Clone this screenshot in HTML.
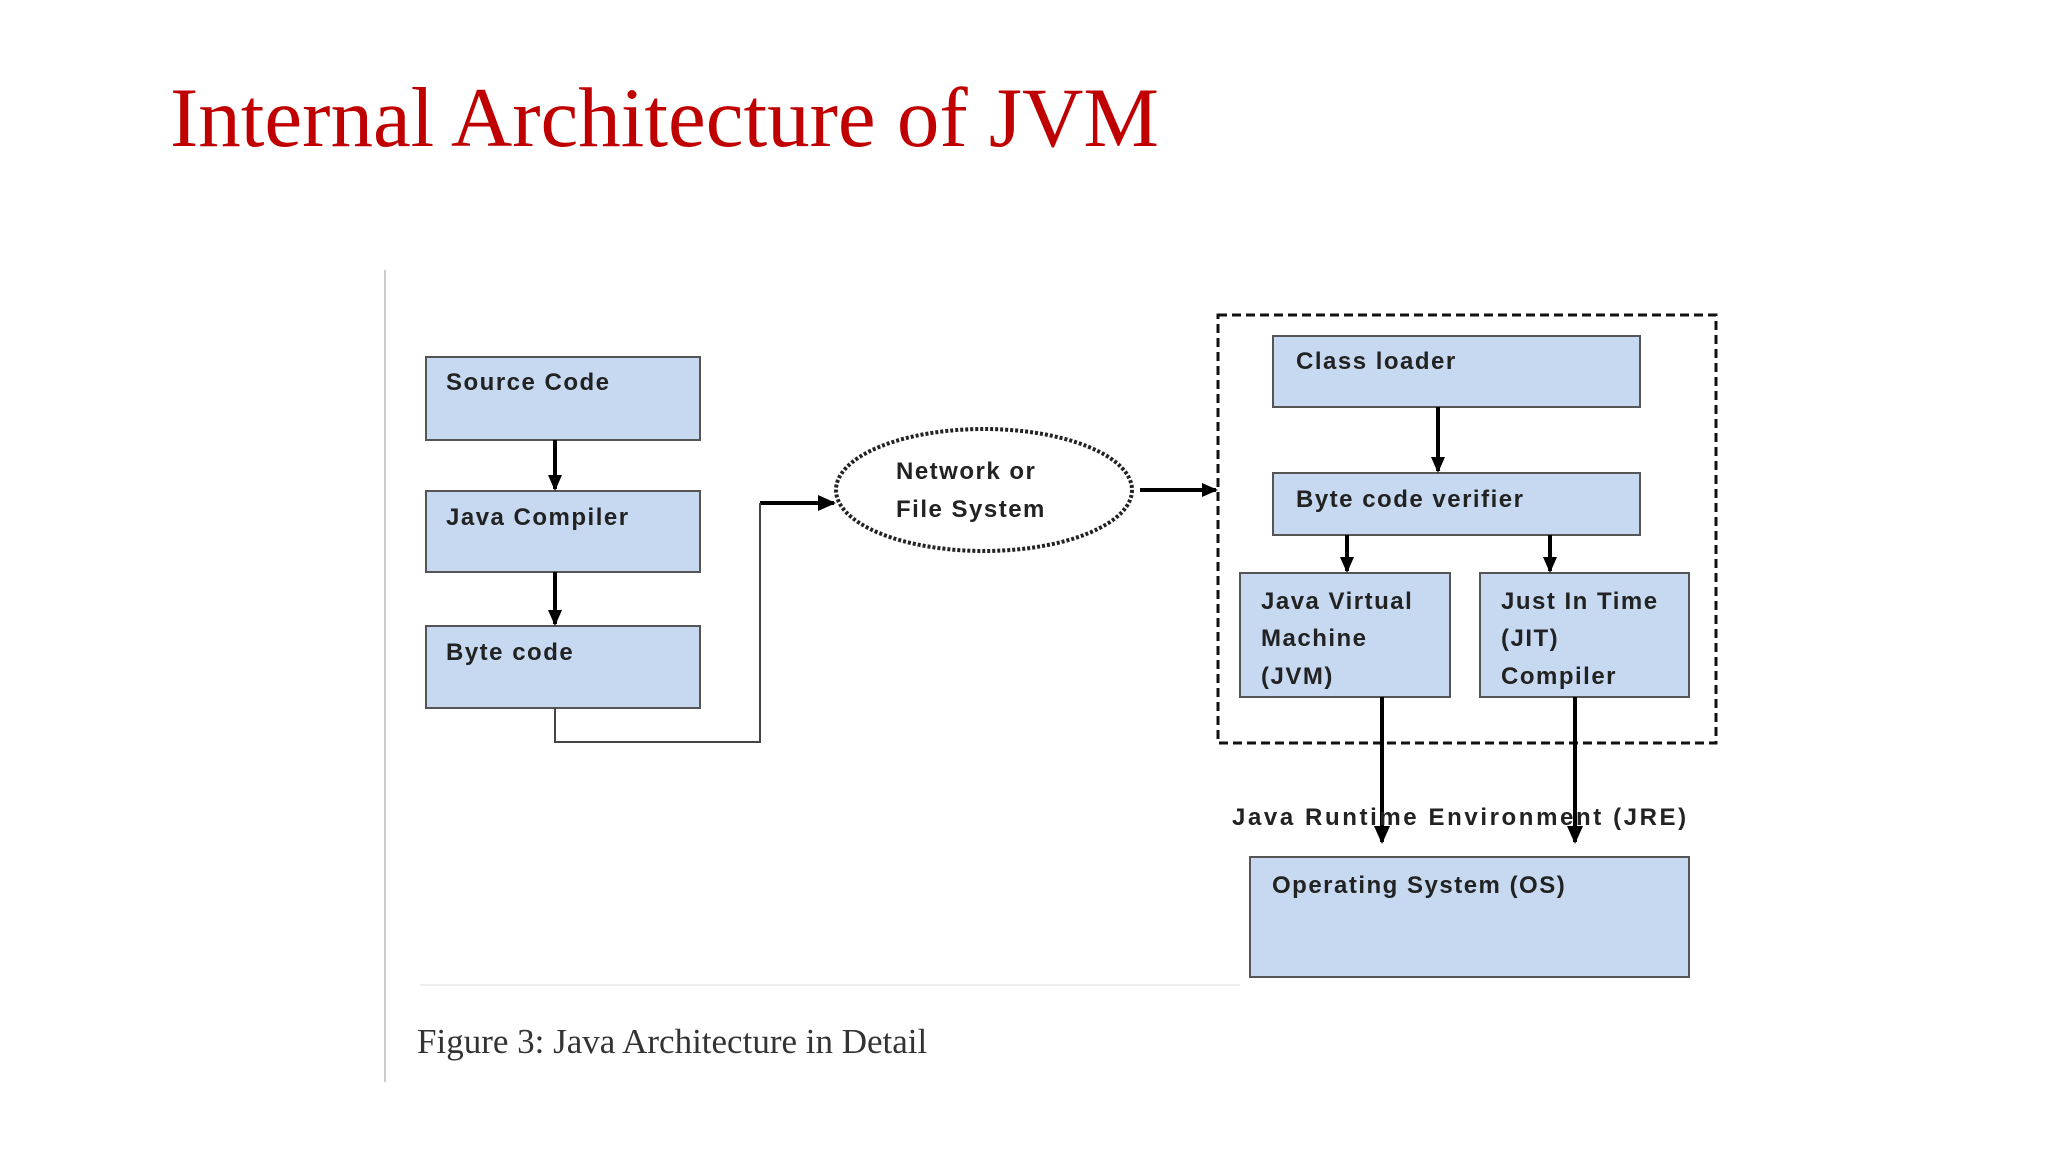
<!DOCTYPE html>
<html><head><meta charset="utf-8"><style>
html,body{margin:0;padding:0;background:#fff;width:2048px;height:1152px;overflow:hidden}
</style></head><body>
<svg width="2048" height="1152" viewBox="0 0 2048 1152" xmlns="http://www.w3.org/2000/svg">
<defs>
<marker id="ah" markerWidth="16" markerHeight="14" refX="14" refY="7" orient="auto" markerUnits="userSpaceOnUse"><path d="M0,0 L16,7 L0,14 z" fill="#000"/></marker>
<marker id="ah2" markerWidth="18" markerHeight="16" refX="16" refY="8" orient="auto" markerUnits="userSpaceOnUse"><path d="M0,0 L18,8 L0,16 z" fill="#000"/></marker>
</defs>
<text x="170" y="146" font-family="Liberation Serif, serif" font-size="85" fill="#c00000">Internal Architecture of JVM</text>
<line x1="385" y1="270" x2="385" y2="1082" stroke="#ccc" stroke-width="2"/>
<line x1="420" y1="985" x2="1240" y2="985" stroke="#eee" stroke-width="2"/>
<g fill="#c6d9f1" stroke="#555" stroke-width="2">
<rect x="426" y="357" width="274" height="83"/>
<rect x="426" y="491" width="274" height="81"/>
<rect x="426" y="626" width="274" height="82"/>
<rect x="1273" y="336" width="367" height="71"/>
<rect x="1273" y="473" width="367" height="62"/>
<rect x="1240" y="573" width="210" height="124"/>
<rect x="1480" y="573" width="209" height="124"/>
<rect x="1250" y="857" width="439" height="120"/>
</g>
<rect x="1218" y="315" width="498" height="428" fill="none" stroke="#111" stroke-width="3" stroke-dasharray="9,5"/>
<ellipse cx="984" cy="490" rx="148" ry="61" fill="#fff" stroke="#222" stroke-width="4" stroke-dasharray="3,2"/>
<g stroke="#000" stroke-width="4" fill="none">
<line x1="555" y1="440" x2="555" y2="489" marker-end="url(#ah)"/>
<line x1="555" y1="572" x2="555" y2="624" marker-end="url(#ah)"/>
<line x1="1438" y1="407" x2="1438" y2="471" marker-end="url(#ah)"/>
<line x1="1347" y1="535" x2="1347" y2="571" marker-end="url(#ah)"/>
<line x1="1550" y1="535" x2="1550" y2="571" marker-end="url(#ah)"/>
<line x1="760" y1="503" x2="834" y2="503" marker-end="url(#ah2)"/>
<line x1="1140" y1="490" x2="1216" y2="490" marker-end="url(#ah)"/>
<line x1="1382" y1="697" x2="1382" y2="842" marker-end="url(#ah2)"/>
<line x1="1575" y1="697" x2="1575" y2="842" marker-end="url(#ah2)"/>
</g>
<polyline points="555,708 555,742 760,742 760,503" fill="none" stroke="#444" stroke-width="2"/>
<g font-family="Liberation Sans, sans-serif" font-size="24" fill="#222" letter-spacing="1.5" font-weight="600">
<text x="446" y="390">Source Code</text>
<text x="446" y="525">Java Compiler</text>
<text x="446" y="660">Byte code</text>
<text x="896" y="479">Network or</text>
<text x="896" y="517">File System</text>
<text x="1296" y="369">Class loader</text>
<text x="1296" y="507">Byte code verifier</text>
<text x="1261" y="609">Java Virtual</text>
<text x="1261" y="646">Machine</text>
<text x="1261" y="684">(JVM)</text>
<text x="1501" y="609">Just In Time</text>
<text x="1501" y="646">(JIT)</text>
<text x="1501" y="684">Compiler</text>
<text x="1232" y="825" letter-spacing="2.6">Java Runtime Environment (JRE)</text>
<text x="1272" y="893">Operating System (OS)</text>
</g>
<text x="417" y="1053" font-family="Liberation Serif, serif" font-size="35" fill="#333">Figure 3: Java Architecture in Detail</text>
</svg>
</body></html>
